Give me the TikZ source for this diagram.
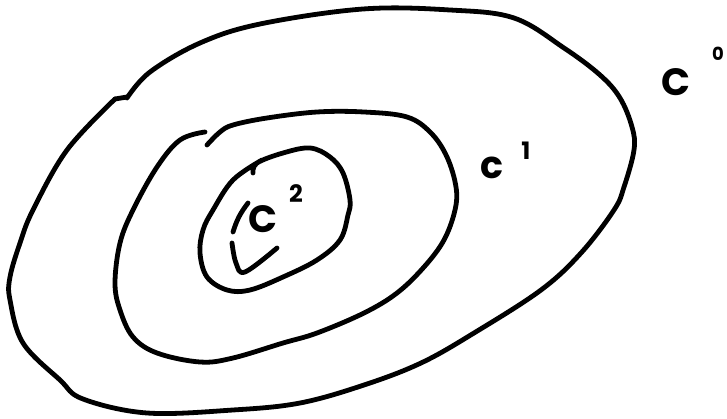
\documentclass[tikz,border=0pt]{standalone}
\usepackage{fontspec}
\setsansfont{Poppins}
\usepackage{tikz}
\usetikzlibrary{positioning}

\begin{document}
\begin{tikzpicture}[x=1pt, y=-1pt,
    pen/.style={line width=4.8pt, line cap=round, line join=round},
    bigc/.style={font=\sffamily\bfseries\fontsize{38}{38}\selectfont, inner sep=0pt},
    smallc/.style={font=\sffamily\bfseries\fontsize{38}{38}\selectfont, inner sep=0pt},
    sup/.style={font=\sffamily\bfseries\fontsize{24}{24}\selectfont, inner sep=0pt}]
    \useasboundingbox (0,0) rectangle (727,419);

    % C^0 (outer)
    \draw[pen] plot[smooth, tension=0.6] coordinates {(127,98) (150,72) (200,43) (260,24)
      (363,9) (450,10) (514,18) (564,48) (600,75) (620,98) (632,127) (634,150) (624,187)
      (614,210) (581,253) (541,290) (474,333) (421,363) (364,385) (300,403) (233,410)
      (147,413) (83,399) (60,380) (23,343) (10,300) (10,277) (20,243) (33,210) (67,150)
      (115,99)};
    \draw[pen] (115,99) -- (127,97);
    \node[bigc] (czero) at (676,82) {C};
    \node[sup, font=\sffamily\bfseries\fontsize{18}{18}\selectfont] (czerosup) at (718,54) {0};

    % C^1
    \draw[pen] plot[smooth, tension=0.6] coordinates {(207,145) (220,132) (233,125)
      (267,118) (317,112) (364,112) (407,117) (431,133) (447,157) (456,187) (455,210)
      (444,240) (424,267) (397,293) (364,313) (317,333) (283,343) (233,358) (200,362)
      (157,353) (133,337) (120,310) (115,283) (120,243) (133,210) (157,167) (180,140)
      (205,132)};
    \node[smallc] (cone) at (492,168) {c};
    \node[sup] (conesup) at (526,151) {1};

    % C^2
    \draw[pen] plot[smooth, tension=0.6] coordinates {(253,173) (257,163) (283,153)
      (310,148) (330,157) (343,173) (350,200) (348,215) (340,240) (317,260) (283,277)
      (250,290) (227,290) (207,277) (200,253) (203,230) (213,210) (233,180) (262,160)};
    \node[bigc] (ctwo) at (263,219) {C};
    \node[sup] (ctwosup) at (296,194) {2};
    \draw[pen] (248,203) to[bend right=10] (233,232);
    \draw[pen] plot[smooth, tension=0.6] coordinates {(232,243) (236,263) (245,272) (277,248)};
\end{tikzpicture}
\end{document}
